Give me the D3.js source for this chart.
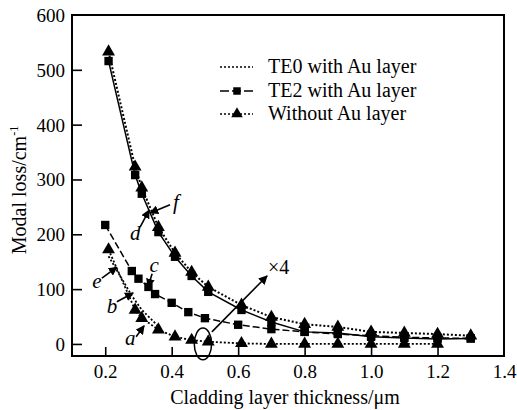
<!DOCTYPE html>
<html>
<head>
<meta charset="utf-8">
<script src="https://cdnjs.cloudflare.com/ajax/libs/d3/7.8.5/d3.min.js"></script>
<style>
  body { margin: 0; background: #fff; }
  text { font-family: "Liberation Serif", "Times New Roman", serif; fill: #000; }
</style>
</head>
<body>
<script>
/******************************************************************************/
/* DATA                                                                       */
/******************************************************************************/
var xTicks = [0.2, 0.4, 0.6, 0.8, 1.0, 1.2, 1.4];
var yTicks = [0, 100, 200, 300, 400, 500, 600];

// upper group (d, f)
var upperSqX  = [0.21, 0.29, 0.31, 0.36, 0.41, 0.46, 0.51, 0.61, 0.70, 0.80, 0.90, 1.00, 1.10, 1.20, 1.30];
var upperSqY  = [516, 308, 274, 204, 159, 124, 95, 62, 40, 22, 20, 13, 11, 9, 10];
var upperTriX = [0.21, 0.29, 0.31, 0.36, 0.41, 0.46, 0.51, 0.61, 0.70, 0.80, 0.90, 1.00, 1.10, 1.20, 1.30];
var upperTriY = [533, 323, 285, 213, 166, 131, 104, 71, 49, 36, 31, 22, 20, 18, 15];

// lower group (a, b, c, e)
var lowerSqX  = [0.20, 0.28, 0.30, 0.33, 0.35, 0.40, 0.45, 0.50, 0.60, 0.70, 0.80, 0.90, 1.00, 1.10, 1.20, 1.30];
var lowerSqY  = [217, 133, 119, 104, 91, 75, 58, 47, 35, 27, 22, 18, 15, 12, 11, 10];
var lowerTriX = [0.21, 0.29, 0.31, 0.36, 0.41, 0.46, 0.51, 0.61, 0.70, 0.80, 0.90, 1.00, 1.10, 1.20];
var lowerTriY = [172, 62, 47, 26, 13, 7, 4, 1, 0, 0, 0, 0, 0, 0];
var te0X = [0.21, 0.28, 0.31, 0.36];
var te0Y = [160, 88, 62, 32];

var legendLabels = ["TE0 with Au layer", "TE2 with Au layer", "Without Au layer"];

// curve labels: text, text pos, arrow tail, arrow tip (data units)
var noteText = ["f", "d", "c", "e", "b", "a"];
var notePos  = [[0.413, 246], [0.29, 190], [0.347, 131], [0.175, 102], [0.22, 57], [0.275, -2]];
var noteFrom = [[0.395, 254], [0.305, 213], [0.341, 128], [0.19, 120], [0.235, 77], [0.293, 13]];
var noteTo   = [[0.335, 239], [0.332, 244], [0.329, 104], [0.235, 140], [0.284, 93], [0.317, 33]];

/******************************************************************************/
/* GLOBAL                                                                     */
/******************************************************************************/
var width  = 517;
var height = 410;

var x = d3.scaleLinear().domain([0.1, 1.4]).range([72, 504]);
var y = d3.scaleLinear().domain([-22, 600]).range([356, 15]);

var svg = d3.select('body')
  .append('svg')
  .attr('width', width)
  .attr('height', height);

var defs = svg.append('defs');
defs.append('marker')
  .attr('id', 'head')
  .attr('viewBox', '0 0 10 10')
  .attr('refX', 9).attr('refY', 5)
  .attr('markerWidth', 9).attr('markerHeight', 9)
  .attr('markerUnits', 'userSpaceOnUse')
  .attr('orient', 'auto')
  .append('path')
  .attr('d', 'M0,0 L10,5 L0,10 Z')
  .attr('fill', '#000');

/******************************************************************************/
/* AXES                                                                       */
/******************************************************************************/
var xAxis = svg.append('g')
  .attr('transform', 'translate(0,' + y(-22) + ')')
  .call(d3.axisBottom(x).tickValues(xTicks).tickSizeInner(-9).tickSizeOuter(0)
    .tickFormat(d3.format('.1f')));
xAxis.attr('font-family', null);
xAxis.select('.domain').remove();
xAxis.selectAll('line').attr('stroke-width', 1.6)
  .filter(function(d) { return d === 1.4; }).remove();
xAxis.selectAll('text').attr('font-size', 19).attr('dy', 0).attr('y', 22);

var yAxis = svg.append('g')
  .attr('transform', 'translate(' + x(0.1) + ',0)')
  .call(d3.axisLeft(y).tickValues(yTicks).tickSizeInner(-10).tickSizeOuter(0));
yAxis.attr('font-family', null);
yAxis.select('.domain').remove();
yAxis.selectAll('line').attr('stroke-width', 1.6)
  .filter(function(d) { return d === 600; }).remove();
yAxis.selectAll('text').attr('font-size', 19).attr('x', -7).attr('dy', '0.34em');

// frame
svg.append('rect')
  .attr('x', x(0.1)).attr('y', y(600))
  .attr('width', x(1.4) - x(0.1)).attr('height', y(-22) - y(600))
  .attr('fill', 'none').attr('stroke', '#000').attr('stroke-width', 2);

svg.append('text')
  .attr('x', 285).attr('y', 404)
  .attr('text-anchor', 'middle').attr('font-size', 20)
  .text('Cladding layer thickness/\u03bcm');

var yTitle = svg.append('text')
  .attr('transform', 'translate(26,190) rotate(-90)')
  .attr('text-anchor', 'middle').attr('font-size', 20);
yTitle.append('tspan').text('Modal loss/cm');
yTitle.append('tspan').attr('dy', -8).attr('font-size', 12).text('-1');

/******************************************************************************/
/* SERIES                                                                     */
/******************************************************************************/
var line = d3.line()
  .x(function(d) { return x(d[0]); })
  .y(function(d) { return y(d[1]); });

var drawSeries = function(xs, ys, dash, width, marker) {
  var pts = d3.zip(xs, ys);
  svg.append('path')
    .datum(pts)
    .attr('d', line)
    .attr('fill', 'none')
    .attr('stroke', '#000')
    .attr('stroke-width', width)
    .attr('stroke-dasharray', dash);
  if (!marker) return;
  svg.append('g').selectAll('path')
    .data(pts)
    .enter()
    .append('path')
    .attr('d', d3.symbol().type(marker === 'sq' ? d3.symbolSquare : d3.symbolTriangle)
      .size(marker === 'sq' ? 70 : 72))
    .attr('transform', function(d) { return 'translate(' + x(d[0]) + ',' + y(d[1]) + ')'; })
    .attr('fill', '#000');
};

drawSeries(te0X, te0Y, '2,2', 1.8, null);
drawSeries(lowerTriX, lowerTriY, '2,2', 1.8, 'tri');
drawSeries(lowerSqX, lowerSqY, '7,3', 1.5, 'sq');
drawSeries(upperTriX, upperTriY, '2,2', 2, 'tri');
drawSeries(upperSqX, upperSqY, null, 1.5, 'sq');

/******************************************************************************/
/* NOTES                                                                      */
/******************************************************************************/
noteText.forEach(function(t, i) {
  svg.append('text')
    .attr('x', x(notePos[i][0])).attr('y', y(notePos[i][1]))
    .attr('text-anchor', 'middle').attr('font-size', 21)
    .attr('font-style', 'italic')
    .text(t);
  svg.append('line')
    .attr('x1', x(noteFrom[i][0])).attr('y1', y(noteFrom[i][1]))
    .attr('x2', x(noteTo[i][0])).attr('y2', y(noteTo[i][1]))
    .attr('stroke', '#000').attr('stroke-width', 1.6)
    .attr('marker-end', 'url(#head)');
});

// magnified region
svg.append('ellipse')
  .attr('cx', x(0.494)).attr('cy', y(0))
  .attr('rx', x(0.52) - x(0.494)).attr('ry', y(0) - y(29))
  .attr('fill', 'none').attr('stroke', '#000').attr('stroke-width', 1.5);
svg.append('line')
  .attr('x1', x(0.521)).attr('y1', y(22))
  .attr('x2', x(0.687)).attr('y2', y(124))
  .attr('stroke', '#000').attr('stroke-width', 1.6)
  .attr('marker-end', 'url(#head)');
svg.append('text')
  .attr('x', x(0.69)).attr('y', y(128))
  .attr('font-size', 20)
  .text('\u00d74');

/******************************************************************************/
/* LEGEND                                                                     */
/******************************************************************************/
var legendY = [73, 97, 120];
var legend = svg.append('g');
legendLabels.forEach(function(label, i) {
  var cy = legendY[i] - 6;
  legend.append('line')
    .attr('x1', 220).attr('x2', 253).attr('y1', cy).attr('y2', cy)
    .attr('stroke', '#000')
    .attr('stroke-width', 1.6)
    .attr('stroke-dasharray', i === 1 ? '9,3' : '2,2');
  if (i > 0) {
    legend.append('path')
      .attr('d', d3.symbol().type(i === 1 ? d3.symbolSquare : d3.symbolTriangle).size(i === 1 ? 56 : 58))
      .attr('transform', 'translate(237,' + cy + ')')
      .attr('fill', '#000');
  }
  legend.append('text')
    .attr('x', 268).attr('y', legendY[i])
    .attr('font-size', 20)
    .text(label);
});
</script>
</body>
</html>
